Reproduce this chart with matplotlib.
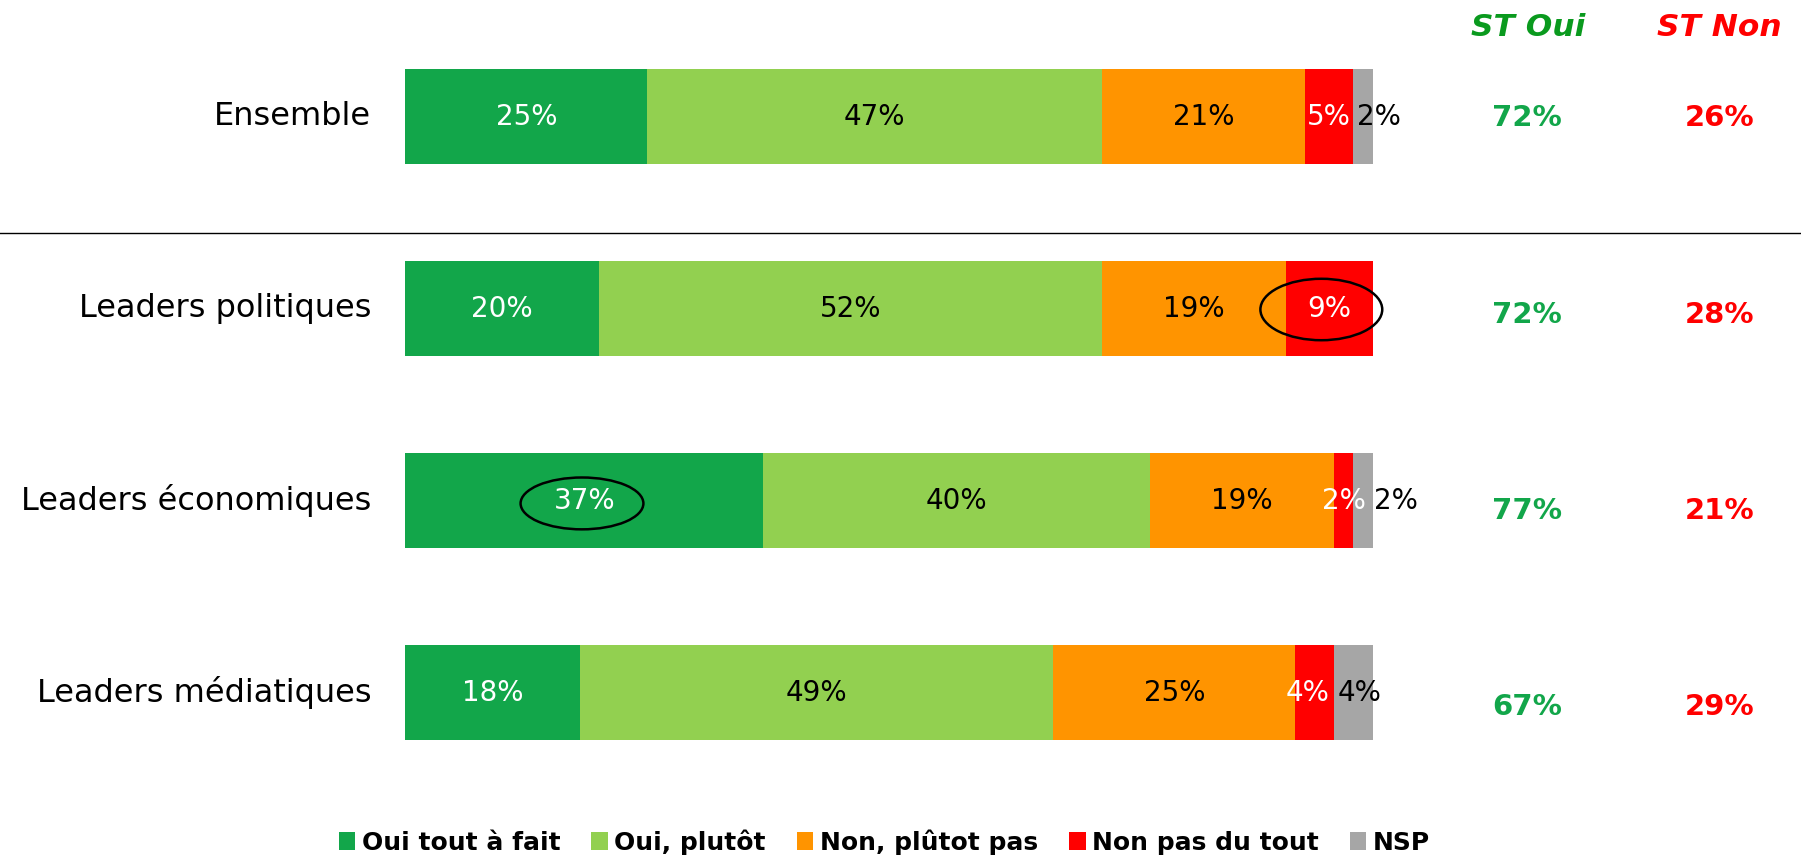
import matplotlib.pyplot as plt
from matplotlib.patches import Ellipse
import numpy as np

# data
categories = ['Ensemble', 'Leaders politiques', 'Leaders économiques', 'Leaders médiatiques']
series = ['Oui tout à fait', 'Oui, plutôt', 'Non, plûtot pas', 'Non pas du tout', 'NSP']
oui_tout = [25, 20, 37, 18]
oui_plutot = [47, 52, 40, 49]
non_plutot = [21, 19, 19, 25]
non_tout = [5, 9, 2, 4]
nsp = [2, 0, 2, 4]
st_oui = ['72%', '72%', '77%', '67%']
st_non = ['26%', '28%', '21%', '29%']

colors = ['#12A64A', '#92D050', '#FF9400', '#FF0000', '#A6A6A6']
text_colors = ['white', 'black', 'black', 'white', 'black']

plt.rcParams['font.family'] = ['DejaVu Sans']

fig = plt.figure(figsize=(18.01, 8.59), dpi=100)
ax = fig.add_axes([0, 0, 1, 1])
ax.set_xlim(-41.93, 144.3)
ax.set_ylim(3.867, -0.607)
ax.axis('off')

values = np.array([oui_tout, oui_plutot, non_plutot, non_tout, nsp], dtype=float)
y = np.arange(len(categories))
left = np.zeros(len(categories))
handles = []
for si, name in enumerate(series):
    h = ax.barh(y, values[si], left=left, height=0.495, color=colors[si],
                edgecolor='none', label=name)
    handles.append(h)
    for ci in range(len(categories)):
        v = values[si, ci]
        if v <= 0:
            continue
        xc = left[ci] + v / 2
        # small grey segments: label pushed outside the bar
        if si == 4 and v < 3:
            xc = left[ci] + v + (0.7 if ci == 0 else 2.4)
        # two narrow neighbours on the last row: spread them a little
        elif ci == 3 and si == 3:
            xc -= 0.7
        elif ci == 3 and si == 4:
            xc += 0.7
        ax.text(xc, y[ci], '%d%%' % v, ha='center', va='center',
                fontsize=20, color=text_colors[si])
    left += values[si]

# category labels
for ci, cat in enumerate(categories):
    ax.text(-3.55, y[ci], cat, ha='right', va='center', fontsize=23, color='black')

# totals columns
ax.text(116.1, -0.464, 'ST Oui', ha='center', va='center', fontsize=22.5,
        fontstyle='italic', fontweight='bold', color='#0A9A1E')
ax.text(135.9, -0.464, 'ST Non', ha='center', va='center', fontsize=22.5,
        fontstyle='italic', fontweight='bold', color='#FF0000')
for ci in range(len(categories)):
    ax.text(116.0, y[ci] + 0.022 * ci + 0.01, st_oui[ci], ha='center', va='center',
            fontsize=21, fontweight='bold', color='#12A64A')
    ax.text(135.9, y[ci] + 0.022 * ci + 0.01, st_non[ci], ha='center', va='center',
            fontsize=21, fontweight='bold', color='#FF0000')

# separator line
ax.axhline(0.607, color='black', lw=1)

# highlight ellipses
pol_red = oui_tout[1] + oui_plutot[1] + non_plutot[1] + non_tout[1] / 2
ax.add_patch(Ellipse((pol_red - 0.8, 1.005), 12.6, 0.32,
                     fill=False, edgecolor='black', lw=1.8))
ax.add_patch(Ellipse((oui_tout[2] / 2 - 0.25, 2.015), 12.7, 0.27,
                     fill=False, edgecolor='black', lw=1.8))

fig.legend(handles=handles, loc='center', bbox_to_anchor=(0.491, 0.02), ncol=5,
           frameon=False, handlelength=0.66, handleheight=0.7, handletextpad=0.25,
           columnspacing=1.25, prop={'weight': 'bold', 'size': 18})

fig.savefig('out.png', dpi=100)
